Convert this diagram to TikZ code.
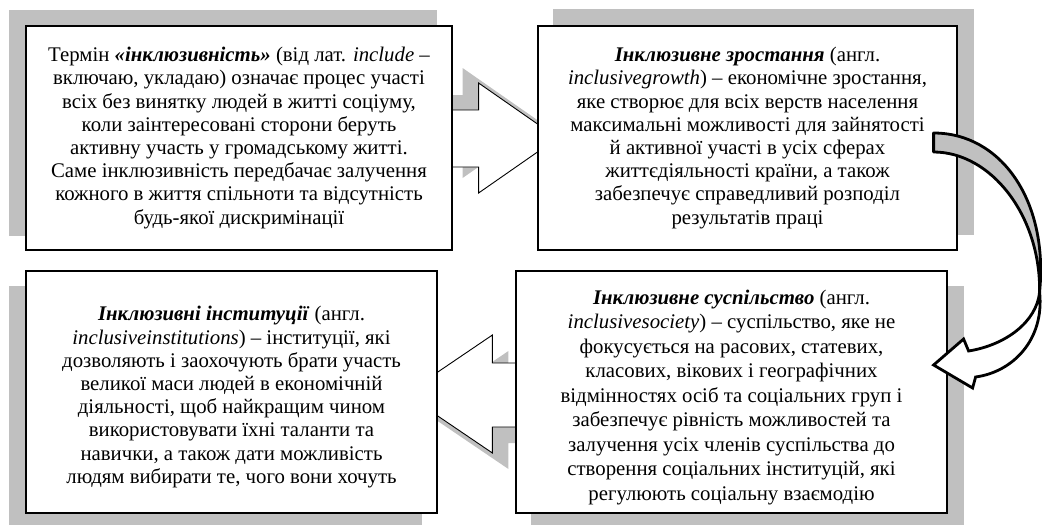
\documentclass[tikz,border=0pt]{standalone}
\usepackage{fontspec}
\setmainfont{Liberation Serif}
\usetikzlibrary{calc}
\pgfdeclarelayer{background}
\pgfsetlayers{background,main}
\definecolor{shadowc}{RGB}{192,192,192}
\newcommand{\myterm}[1]{\textbf{\textit{#1}}}
\newcommand{\mytopstrut}{\rule{0pt}{24.5pt}}
\tikzset{
  textbox/.style={draw=black, line width=1.2pt, fill=white, align=center, inner sep=0pt,
    font=\fontsize{20.8}{23.2}\selectfont},
  boxshadow/.style={fill=shadowc},
  blockarrow/.style={draw=black, line width=0.9pt, fill=white, line join=miter},
  arrowshadow/.style={fill=shadowc},
  curvedback/.style={draw=black, line width=2.8pt, fill=shadowc, line join=round},
  curvedfront/.style={draw=black, line width=2.8pt, fill=white, line join=miter}
}
\begin{document}
\begin{tikzpicture}[x=1pt,y=-1pt]
\useasboundingbox (0,0) rectangle (1042,525);

\node[textbox, minimum width=426pt, minimum height=224pt] (b1) at (239,138)
 {Термін \myterm{«інклюзивність»} (від лат. \textit{include} –\\
  включаю, укладаю) означає процес участі\\
  всіх без винятку людей в житті соціуму,\\
  коли заінтересовані сторони беруть\\
  активну участь у громадському житті.\\
  Саме інклюзивність передбачає залучення\\
  кожного в життя спільноти та відсутність\\
  будь-якої дискримінації};

\node[textbox, minimum width=419pt, minimum height=224pt] (b2) at (747.5,138)
 {\myterm{Інклюзивне зростання} (англ.\\
  \textit{inclusivegrowth}) – економічне зростання,\\
  яке створює для всіх верств населення\\
  максимальні можливості для зайнятості\\
  й активної участі в усіх сферах\\
  життєдіяльності країни, а також\\
  забезпечує справедливий розподіл\\
  результатів праці};

\node[textbox, minimum width=411pt, minimum height=242pt] (b3) at (231.5,392)
 {\mytopstrut\myterm{Інклюзивні інституції} (англ.\\
  \textit{inclusiveinstitutions}) – інституції, які\\
  дозволяють і заохочують брати участь\\
  великої маси людей в економічній\\
  діяльності, щоб найкращим чином\\
  використовувати їхні таланти та\\
  навички, а також дати можливість\\
  людям вибирати те, чого вони хочуть};

\node[textbox, minimum width=431pt, minimum height=242pt,
      font=\fontsize{20.8}{24.5}\selectfont] (b4) at (731.5,392)
 {\mytopstrut\myterm{Інклюзивне суспільство} (англ.\\
  \textit{inclusivesociety}) – суспільство, яке не\\
  фокусується на расових, статевих,\\
  класових, вікових і географічних\\
  відмінностях осіб та соціальних груп і\\
  забезпечує рівність можливостей та\\
  залучення усіх членів суспільства до\\
  створення соціальних інституцій, які\\
  регулюють соціальну взаємодію};

\begin{pgfonlayer}{background}
  % box shadows
  \fill[boxshadow] ($(b1.north west)+(-16,-15)$) rectangle ($(b1.south east)+(-16,-15)$);
  \fill[boxshadow] ($(b2.north west)+(16,-16)$) rectangle ($(b2.south east)+(16,-16)$);
  \fill[boxshadow] ($(b3.north west)+(-16,16)$) rectangle ($(b3.south east)+(-16,16)$);
  \fill[boxshadow] ($(b4.north west)+(16,16)$) rectangle ($(b4.south east)+(16,16)$);
  % block arrow b1 -> b2
  \begin{scope}[shift={($(b1.east)+(-16,-15)$)}]
    \fill[arrowshadow] (-12,-28) -- (26,-28) -- (26,-55) -- (105,0) -- (26,55) -- (26,29) -- (-12,29) -- cycle;
  \end{scope}
  \begin{scope}[shift={(b1.east)}]
    \draw[blockarrow] (-12,-28) -- (26,-28) -- (26,-55) -- (105,0) -- (26,55) -- (26,29) -- (-12,29) -- cycle;
  \end{scope}
  % block arrow b4 -> b3
  \begin{scope}[shift={($(b4.west)+(16,16)$)}]
    \fill[arrowshadow] (9,-29) -- (-23,-29) -- (-23,-57) -- (-110,2) -- (-23,61) -- (-23,35) -- (9,35) -- cycle;
  \end{scope}
  \begin{scope}[shift={(b4.west)}]
    \draw[blockarrow] (9,-29) -- (-23,-29) -- (-23,-57) -- (-110,2) -- (-23,61) -- (-23,35) -- (9,35) -- cycle;
  \end{scope}
\end{pgfonlayer}

% curved arrow b2 -> b4
\coordinate (co) at ($(b2.east)+(-24,-5)$);
\begin{scope}[shift={(co)}]
  \filldraw[curvedback]
    (0,0) .. controls (67,0) and (115,67) .. (106,159)
    .. controls (107,82) and (57,19) .. (0,19) -- cycle;
  \filldraw[curvedfront]
    (106,159) .. controls (103,189) and (72,212) .. (35,218)
    -- (30,206) -- (0,232) -- (39,255) -- (42,244)
    .. controls (79,239) and (111,207) .. (106,159) -- cycle;
\end{scope}
\end{tikzpicture}
\end{document}
